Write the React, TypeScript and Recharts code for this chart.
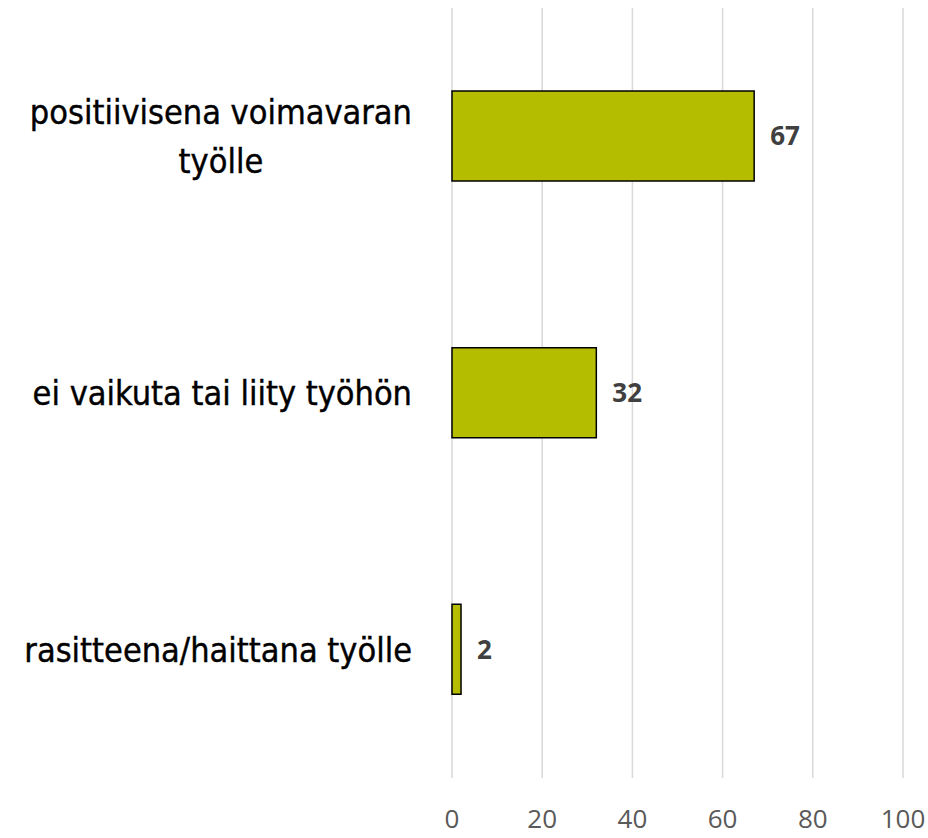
import React from 'react'
import { BarChart, Bar, XAxis, YAxis, CartesianGrid, LabelList } from 'recharts'

const categories = [
  'positiivisena voimavaran\ntyölle',
  'ei vaikuta tai liity työhön',
  'rasitteena/haittana työlle',
]
const values = [67, 32, 2]
const xTicks = [0, 20, 40, 60, 80, 100]

const data = categories.map((name, i) => ({ name, value: values[i] }))

const LABEL_FONT = '34px "DejaVu Sans Condensed", "DejaVu Sans", sans-serif'

let ctx: CanvasRenderingContext2D | null = null
const measure = (s: string) => {
  if (!ctx) ctx = document.createElement('canvas').getContext('2d')
  if (!ctx) return s.length * 15
  ctx.font = LABEL_FONT
  return ctx.measureText(s).width
}

const CategoryTick = ({ x, y, payload }: any) => {
  const lines = String(payload.value).split('\n')
  const widths = lines.map(measure)
  const maxW = Math.max(...widths)
  const right = x - 32
  const center = right - maxW / 2
  const lh = 49
  const y0 = y - ((lines.length - 1) * lh) / 2
  return (
    <g>
      {lines.map((l, i) => (
        <text
          key={i}
          x={center}
          y={y0 + i * lh}
          textAnchor="middle"
          dominantBaseline="central"
          style={{ font: LABEL_FONT }}
          fill="#000"
          stroke="#000"
          strokeWidth={0.4}
        >
          {l}
        </text>
      ))}
    </g>
  )
}

export default function App() {
  return (
    <div style={{ position: 'absolute', left: 0, top: 0, background: '#fff' }}>
      <BarChart
        width={928}
        height={838}
        data={data}
        layout="vertical"
        margin={{ top: 8, right: 25, bottom: 0, left: 0 }}
        barSize={90}
      >
        <CartesianGrid horizontal={false} stroke="#d9d9d9" strokeWidth={1.5} />
        <XAxis
          type="number"
          domain={[0, 100]}
          ticks={xTicks}
          axisLine={false}
          tickLine={false}
          height={60}
          tickMargin={26}
          tick={{ fill: '#595959', fontSize: 26, fontFamily: '"Open Sans", sans-serif' }}
          interval={0}
        />
        <YAxis
          type="category"
          dataKey="name"
          width={452}
          axisLine={false}
          tickLine={false}
          tick={<CategoryTick />}
          interval={0}
        />
        <Bar dataKey="value" fill="#b5bd00" stroke="#000" strokeWidth={1.5} isAnimationActive={false}>
          <LabelList
            dataKey="value"
            position="right"
            offset={16}
            fill="#404040"
            style={{ fontSize: 26, fontWeight: 700, fontFamily: '"Open Sans", sans-serif' }}
          />
        </Bar>
      </BarChart>
    </div>
  )
}
